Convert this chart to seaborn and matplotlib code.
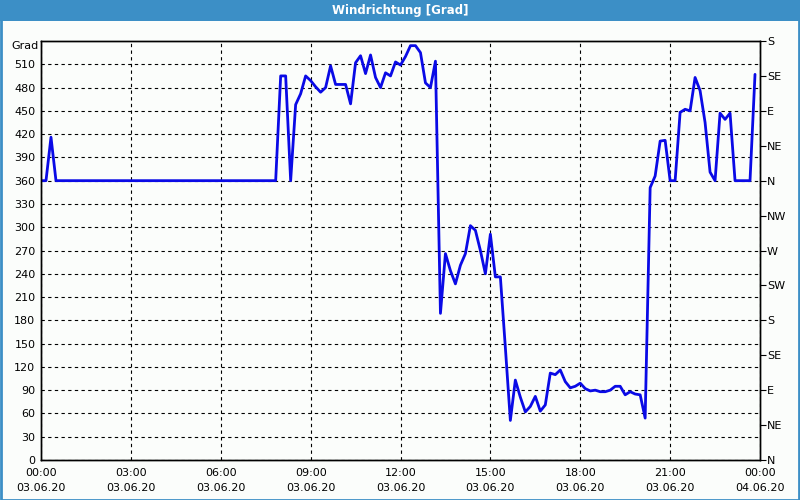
import numpy as np
import pandas as pd
import matplotlib
matplotlib.use("Agg")
import matplotlib.pyplot as plt
import seaborn as sns
from matplotlib.patches import Rectangle

# ---- data (10-minute samples, 03.06.20 00:00 .. 23:50) ----
direction = [
    360, 360, 416, 360, 360, 360, 360, 360, 360, 360,
    360, 360, 360, 360, 360, 360, 360, 360, 360, 360,
    360, 360, 360, 360, 360, 360, 360, 360, 360, 360,
    360, 360, 360, 360, 360, 360, 360, 360, 360, 360,
    360, 360, 360, 360, 360, 360, 360, 360, 495, 495,
    360, 458, 472, 495, 489, 481, 474, 480, 508, 484,
    484, 484, 459, 512, 521, 498, 522, 493, 480, 499,
    495, 513, 509, 520, 534, 534, 525, 486, 480, 514,
    189, 266, 244, 227, 251, 266, 302, 296, 270, 240,
    291, 236, 236, 145, 51, 103, 81, 62, 69, 82,
    63, 71, 112, 110, 116, 101, 93, 95, 99, 92,
    89, 90, 88, 88, 90, 95, 95, 84, 88, 85,
    84, 54, 351, 366, 411, 412, 360, 360, 448, 452,
    450, 493, 476, 435, 371, 360, 447, 439, 447, 360,
    360, 360, 360, 497,
]
hours = [i / 6 for i in range(len(direction))]

y_ticks = list(range(0, 511, 30))
compass_ticks = list(range(0, 541, 45))
compass_labels = ["N", "NE", "E", "SE", "S", "SW", "W", "NW", "N", "NE", "E", "SE", "S"]
x_ticks = [0, 3, 6, 9, 12, 15, 18, 21, 24]
x_labels = ["00:00\n03.06.20", "03:00\n03.06.20", "06:00\n03.06.20", "09:00\n03.06.20",
            "12:00\n03.06.20", "15:00\n03.06.20", "18:00\n03.06.20", "21:00\n03.06.20",
            "00:00\n04.06.20"]
title = "Windrichtung [Grad]"
unit = "Grad"

df = pd.DataFrame({"h": hours, "deg": direction})

sns.set_theme(style="white")
plt.rcParams["font.family"] = ["DejaVu Sans"]

W, H = 800, 500
fig = plt.figure(figsize=(8, 5), dpi=100)
fig.patch.set_facecolor("#fbfdfb")

ax = fig.add_axes([41 / W, 1 - 460 / H, (760 - 41) / W, (460 - 41) / H])
ax.set_facecolor("#fbfdfb")

sns.lineplot(data=df, x="h", y="deg", ax=ax, color="#0a0ae6", linewidth=2)

ax.set_xlim(0, 24)
ax.set_ylim(0, 540)
ax.set_xlabel("")
ax.set_ylabel("")

ax.set_yticks(y_ticks)
ax.set_yticklabels([str(v) for v in y_ticks], fontsize=8, color="black")
ax.set_xticks(x_ticks)
ax.set_xticklabels(x_labels, fontsize=8, color="black", linespacing=1.6)
ax.set_xticks(np.arange(0, 25, 1), minor=True)
ax.tick_params(axis="x", which="major", direction="out", length=3, width=0.8, pad=3, color="black")
ax.tick_params(axis="x", which="minor", direction="out", length=3, width=0.8, color="black")
ax.tick_params(axis="y", which="major", direction="out", length=0, pad=4, color="black")

ax.grid(True, which="major", color="black", linestyle=(0, (3, 3)), linewidth=0.8)
for s in ax.spines.values():
    s.set_color("black")
    s.set_linewidth(1.0)
    s.set_visible(True)

ax2 = ax.twinx()
ax2.set_ylim(0, 540)
ax2.set_yticks(compass_ticks)
ax2.set_yticklabels(compass_labels, fontsize=8, color="black")
ax2.tick_params(axis="y", direction="out", length=4, width=0.8, pad=1, color="black")
ax2.grid(False)
for s in ax2.spines.values():
    s.set_color("black")
    s.set_linewidth(1.0)

fig.text(25 / W, 1 - 46 / H, unit, fontsize=8, ha="center", va="center", color="black")

# title bar
fig.add_artist(Rectangle((0, 1 - 21 / H), 1, 21 / H, transform=fig.transFigure,
                         facecolor="#3c8fc6", edgecolor="none", zorder=0))
fig.text(0.5, 1 - 10.5 / H, title, fontsize=8.5, fontweight="bold", color="white",
         ha="center", va="center")
# window border
fig.add_artist(Rectangle((0.5 / W, 0.5 / H), 1 - 2 / W, 1 - 2 / H, transform=fig.transFigure,
                         facecolor="none", edgecolor="#3c8fc6", linewidth=2))

fig.savefig("out.png", dpi=100, facecolor=fig.get_facecolor())
